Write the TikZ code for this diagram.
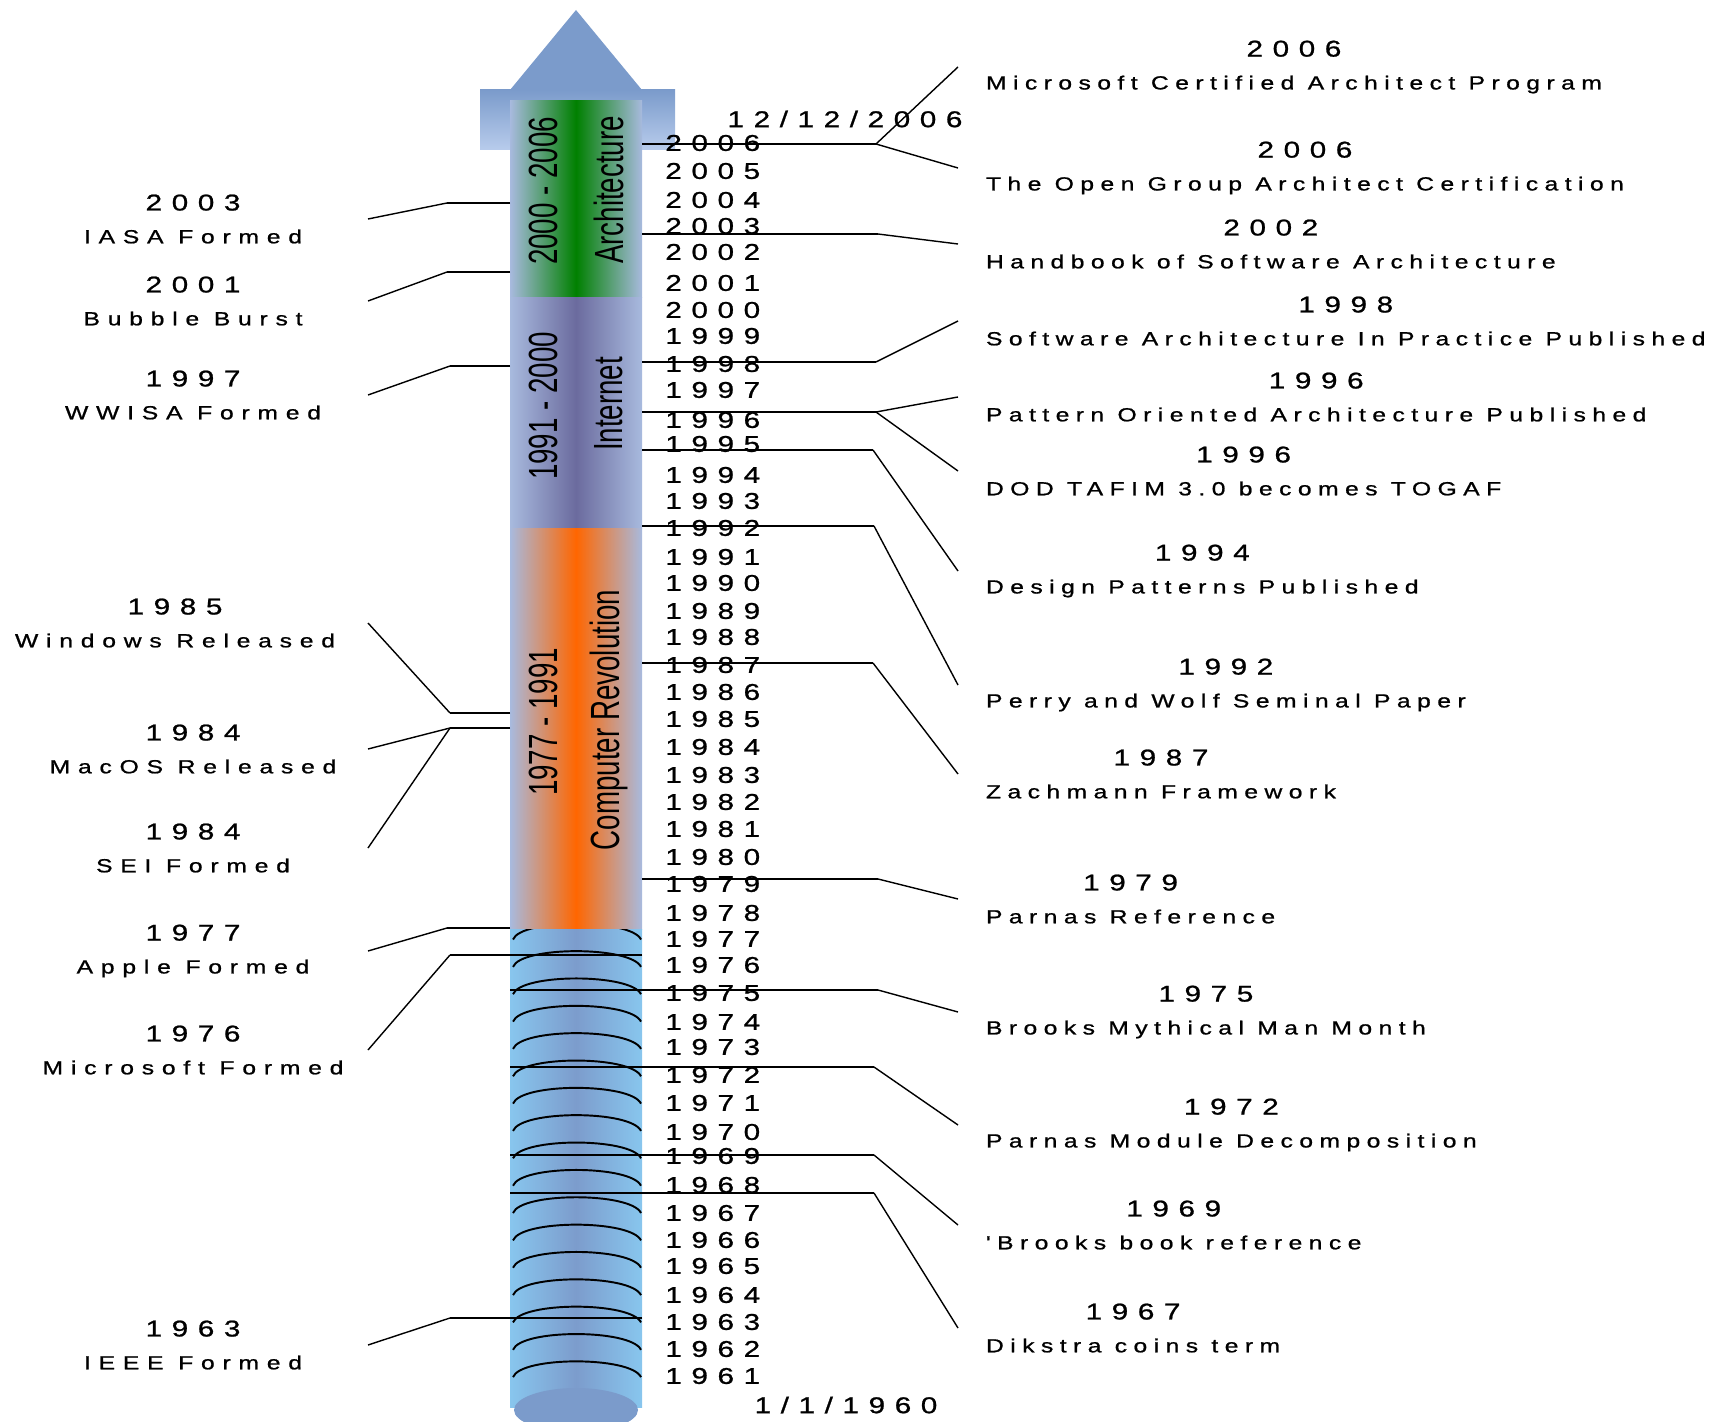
\documentclass[tikz,border=0pt]{standalone}
\usepackage{fontspec}
\usepackage{graphicx}
\setmainfont{Liberation Sans}
\newfontfamily\yearfam[FakeStretch=1.3, FakeBold=1, LetterSpace=42]{Liberation Sans}
\newfontfamily\leftfam[FakeStretch=1.3, FakeBold=1, LetterSpace=41]{Liberation Sans}
\newfontfamily\rightfam[FakeStretch=1.3, FakeBold=1, LetterSpace=34]{Liberation Sans}
\usetikzlibrary{fit}

\definecolor{arrowblue}{RGB}{123,155,203}
\definecolor{shoulderlight}{RGB}{184,204,236}
\definecolor{edgegray}{RGB}{168,186,222}
\definecolor{archgreen}{RGB}{0,128,0}
\definecolor{netslate}{RGB}{107,107,158}
\definecolor{revorange}{RGB}{255,102,0}
\definecolor{skyedge}{RGB}{136,198,238}
\definecolor{skymid}{RGB}{124,156,204}

\newcommand{\tlYear}{\yearfam\fontsize{13.0}{18.7}\selectfont}
\newcommand{\tlLeft}{\leftfam\fontsize{10.8}{18.7}\selectfont}
\newcommand{\tlRight}{\rightfam\fontsize{10.8}{18.7}\selectfont}
\newcommand{\tlCol}{\fontsize{23.2}{26}\selectfont}

\tikzset{
  section/.style={inner sep=0pt, outer sep=0pt},
  scaleyear/.style={anchor=west, inner sep=0pt, font=\tlYear},
  rlabel/.style={anchor=west, align=center, inner xsep=0.56cm, inner ysep=0pt, outer sep=0pt, font=\tlRight},
  llabel/.style={anchor=east, align=center, inner sep=0pt, outer sep=0pt, minimum width=7cm, font=\tlLeft},
  coltext/.style={rotate=90, inner sep=0pt, font=\tlCol},
  tick/.style={line width=1.1pt},
  slant/.style={line width=0.8pt},
  rib/.style={line width=1.1pt},
}

\begin{document}
\begin{tikzpicture}[x=0.02cm, y=-0.02cm]
\useasboundingbox (0,0) rectangle (1728,1422);

% arrow head and its shoulder
\node[section, fit={(480,90) (675,150)}, top color=arrowblue, bottom color=shoulderlight] (shoulder) {};
\fill[arrowblue] (510,90) -- (576,10) -- (642,90) -- cycle;

% the four eras of the column
\node[section, fit={(510,101) (642,298)}, left color=edgegray, right color=edgegray, middle color=archgreen] (secArch) {};
\node[section, fit={(510,298) (642,528)}, left color=edgegray, right color=edgegray, middle color=netslate] (secNet) {};
\node[section, fit={(510,528) (642,929)}, left color=edgegray, right color=edgegray, middle color=revorange] (secRev) {};
\node[section, fit={(510,929) (642,1407)}, left color=skyedge, right color=skyedge, middle color=skymid] (secEarly) {};
\fill[arrowblue] (576,1410) ellipse [x radius=62, y radius=22];

% ribs of the early section
\begin{scope}
  \clip (510,929) rectangle (642,1407);
  \foreach \p in {923.5,950.9,978.2,1005.6,1032.9,1060.3,1087.6,1114.9,1142.3,1169.7,1197.0,1224.4,1251.7,1279.1,1306.4,1333.8,1361.1}
    \draw[rib] (513,\p+16) .. controls (521,\p-5) and (631,\p-5) .. (641,\p+16);
\end{scope}

% era captions
\node[coltext] (tArchYrs) at (543,191) {\scalebox{0.68}[1]{2000 - 2006}};
\node[coltext] (tArch) at (609,190) {\scalebox{0.68}[1]{Architecture}};
\node[coltext] (tNetYrs) at (543,406) {\scalebox{0.68}[1]{1991 - 2000}};
\node[coltext] (tNet) at (609,404) {\scalebox{0.68}[1]{Internet}};
\node[coltext] (tRevYrs) at (543,722) {\scalebox{0.68}[1]{1977 - 1991}};
\node[coltext] (tRev) at (609,720) {\scalebox{0.68}[1]{Computer Revolution}};

% year scale
\foreach \yr/\yy in {2006/143,2005/171,2004/200,2003/226,2002/252,2001/283,2000/310,1999/336,1998/364,1997/390,1996/420,1995/444,1994/475,1993/501,1992/528,1991/557,1990/583,1989/611,1988/637,1987/665,1986/692,1985/719,1984/747,1983/775,1982/802,1981/829,1980/857,1979/884,1978/913,1977/939,1976/965,1975/993,1974/1022,1973/1047,1972/1075,1971/1103,1970/1132,1969/1156,1968/1185,1967/1213,1966/1240,1965/1266,1964/1295,1963/1322,1962/1349,1961/1376}
  \node[scaleyear] (yr\yr) at (665,\yy) {\yr};

\node[font=\tlYear, inner sep=0pt] (dTop) at (845,119) {12/12/2006};
\node[font=\tlYear, inner sep=0pt] (dBot) at (846,1405) {1/1/1960};

% events on the right
\node[rlabel] (lMCA) at (958,67) {{\tlYear 2006}\\Microsoft Certified Architect Program};
\node[rlabel] (lTOG) at (958,168) {{\tlYear 2006}\\The Open Group Architect Certification};
\node[rlabel] (lHSA) at (958,244) {{\tlYear 2002}\\Handbook of Software Architecture};
\node[rlabel] (lSAIP) at (958,321) {{\tlYear 1998}\\Software Architecture In Practice Published};
\node[rlabel] (lPOA) at (958,397) {{\tlYear 1996}\\Pattern Oriented Architecture Published};
\node[rlabel] (lDOD) at (958,471) {{\tlYear 1996}\\DOD TAFIM 3.0 becomes TOGAF};
\node[rlabel] (lDP) at (958,571) {{\tlYear 1994}\\Design Patterns Published};
\node[rlabel] (lPW) at (958,685) {{\tlYear 1992}\\Perry and Wolf Seminal Paper};
\node[rlabel] (lZF) at (958,774) {{\tlYear 1987}\\Zachmann Framework};
\node[rlabel] (lPR) at (958,899) {{\tlYear 1979}\\Parnas Reference};
\node[rlabel] (lBMM) at (958,1012) {{\tlYear 1975}\\Brooks Mythical Man Month};
\node[rlabel] (lPMD) at (958,1125) {{\tlYear 1972}\\Parnas Module Decomposition};
\node[rlabel] (lBBR) at (958,1225) {{\tlYear 1969}\\'Brooks book reference};
\node[rlabel] (lDCT) at (958,1328) {{\tlYear 1967}\\Dikstra coins term};

% events on the left
\node[llabel] (lIASA) at (368,219) {{\tlYear 2003}\\IASA Formed};
\node[llabel] (lBub) at (368,301) {{\tlYear 2001}\\Bubble Burst};
\node[llabel] (lWWISA) at (368,395) {{\tlYear 1997}\\WWISA Formed};
\node[llabel, minimum width=7.72cm] (lWin) at (368,623) {{\tlYear 1985}\\Windows Released};
\node[llabel] (lMac) at (368,749) {{\tlYear 1984}\\MacOS Released};
\node[llabel] (lSEI) at (368,848) {{\tlYear 1984}\\SEI Formed};
\node[llabel] (lApple) at (368,951) {{\tlYear 1977}\\Apple Formed};
\node[llabel] (lMS) at (368,1050) {{\tlYear 1976}\\Microsoft Formed};
\node[llabel] (lIEEE) at (368,1345) {{\tlYear 1963}\\IEEE Formed};

% connector corners, right side
\coordinate (k2006) at (876,144);
\coordinate (k2003) at (878,234);
\coordinate (k1998) at (876,362);
\coordinate (k1996) at (876,412);
\coordinate (k1995) at (873,450);
\coordinate (k1992) at (874,526);
\coordinate (k1987) at (873,663);
\coordinate (k1979) at (878,879);
\coordinate (k1975) at (878,990);
\coordinate (k1972) at (874,1067);
\coordinate (k1969) at (874,1155);
\coordinate (k1968) at (874,1193);

\draw[tick] (k2006 -| secArch.east) -- (k2006);
\draw[slant] (k2006) -- (lMCA.west);
\draw[slant] (k2006) -- (lTOG.west);
\draw[tick] (k2003 -| secArch.east) -- (k2003);
\draw[slant] (k2003) -- (lHSA.west);
\draw[tick] (k1998 -| secNet.east) -- (k1998);
\draw[slant] (k1998) -- (lSAIP.west);
\draw[tick] (k1996 -| secNet.east) -- (k1996);
\draw[slant] (k1996) -- (lPOA.west);
\draw[slant] (k1996) -- (lDOD.west);
\draw[tick] (k1995 -| secNet.east) -- (k1995);
\draw[slant] (k1995) -- (lDP.west);
\draw[tick] (k1992 -| secNet.east) -- (k1992);
\draw[slant] (k1992) -- (lPW.west);
\draw[tick] (k1987 -| secRev.east) -- (k1987);
\draw[slant] (k1987) -- (lZF.west);
\draw[tick] (k1979 -| secRev.east) -- (k1979);
\draw[slant] (k1979) -- (lPR.west);
\draw[tick] (k1975 -| secEarly.west) -- (k1975);
\draw[slant] (k1975) -- (lBMM.west);
\draw[tick] (k1972 -| secEarly.west) -- (k1972);
\draw[slant] (k1972) -- (lPMD.west);
\draw[tick] (k1969 -| secEarly.west) -- (k1969);
\draw[slant] (k1969) -- (lBBR.west);
\draw[tick] (k1968 -| secEarly.west) -- (k1968);
\draw[slant] (k1968) -- (lDCT.west);

% connector corners, left side
\coordinate (j2003) at (447,203);
\coordinate (j2001) at (447,272);
\coordinate (j1997) at (450,366);
\coordinate (j1985) at (450,713);
\coordinate (j1984) at (450,728);
\coordinate (j1977) at (447,928);
\coordinate (j1976) at (450,955);
\coordinate (j1963) at (450,1318);

\draw[tick] (j2003 -| secArch.west) -- (j2003);
\draw[slant] (j2003) -- (lIASA.east);
\draw[tick] (j2001 -| secArch.west) -- (j2001);
\draw[slant] (j2001) -- (lBub.east);
\draw[tick] (j1997 -| secNet.west) -- (j1997);
\draw[slant] (j1997) -- (lWWISA.east);
\draw[tick] (j1985 -| secRev.west) -- (j1985);
\draw[slant] (j1985) -- (lWin.east);
\draw[tick] (j1984 -| secRev.west) -- (j1984);
\draw[slant] (j1984) -- (lMac.east);
\draw[slant] (j1984) -- (lSEI.east);
\draw[tick] (j1977 -| secRev.west) -- (j1977);
\draw[slant] (j1977) -- (lApple.east);
\draw[tick] (j1976 -| secEarly.east) -- (j1976);
\draw[slant] (j1976) -- (lMS.east);
\draw[tick] (j1963 -| secEarly.east) -- (j1963);
\draw[slant] (j1963) -- (lIEEE.east);
\end{tikzpicture}
\end{document}
